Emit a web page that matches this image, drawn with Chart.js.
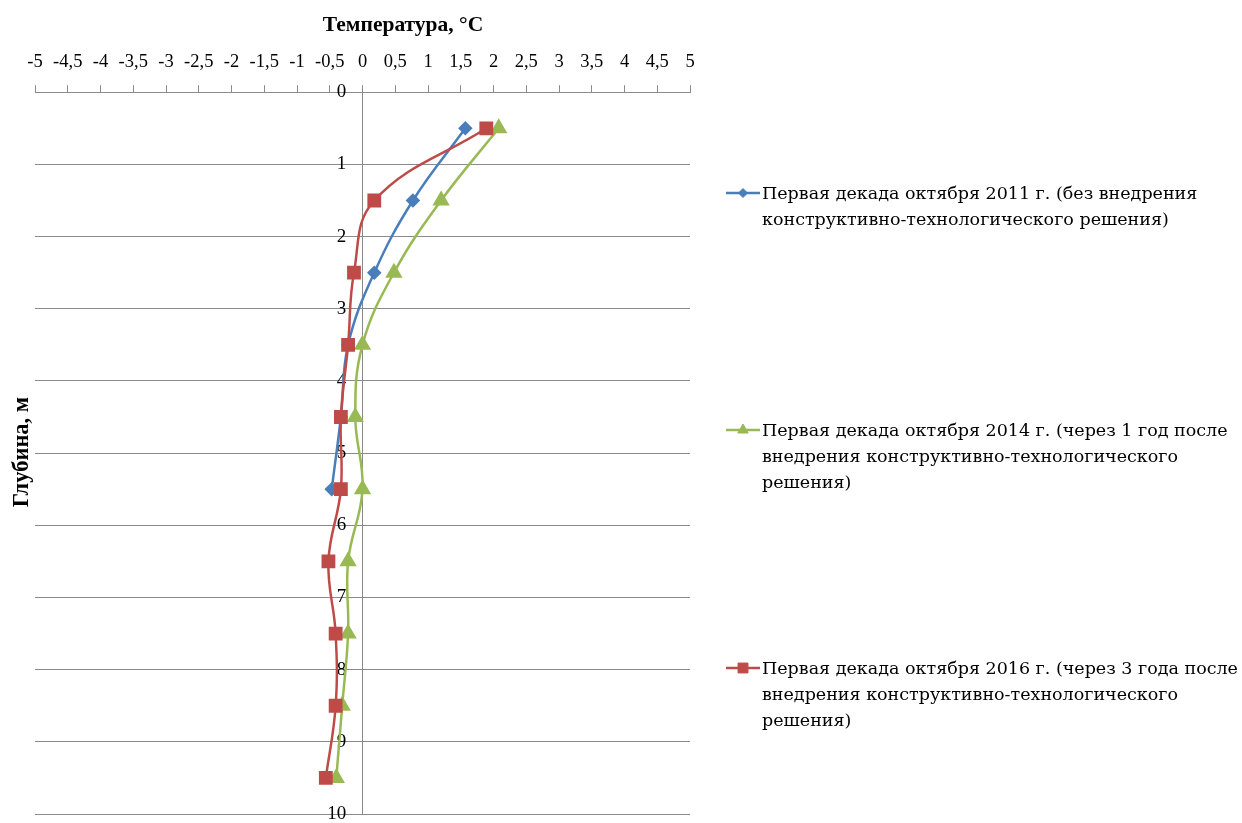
<!DOCTYPE html>
<html>
<head>
<meta charset="utf-8">
<script src="https://cdn.jsdelivr.net/npm/chart.js@4/dist/chart.umd.min.js"></script>
<style>
  html, body { margin: 0; padding: 0; background: #fff; }
  #wrap { position: relative; width: 1242px; height: 823px; }
</style>
</head>
<body>
<div id="wrap"><canvas id="c" width="1242" height="823"></canvas></div>
<script>
// Depth of each measurement, m
const depths = [0.5, 1.5, 2.5, 3.5, 4.5, 5.5, 6.5, 7.5, 8.5, 9.5];
// Soil temperature, °C, first ten days of October
const temp2011 = [1.57, 0.77, 0.18, -0.22, -0.33, -0.47];
const temp2014 = [2.08, 1.20, 0.48, 0.00, -0.11, 0.00, -0.22, -0.22, -0.31, -0.40];
const temp2016 = [1.89, 0.18, -0.13, -0.22, -0.33, -0.33, -0.52, -0.41, -0.41, -0.56];

// Legend captions, already split into lines
const seriesLabels = [
  ['Первая декада октября 2011 г. (без внедрения', 'конструктивно-технологического решения)'],
  ['Первая декада октября 2014 г. (через 1 год после', 'внедрения конструктивно-технологического', 'решения)'],
  ['Первая декада октября 2016 г. (через 3 года после', 'внедрения конструктивно-технологического', 'решения)']
];
const xTitle = 'Температура, °C';
const yTitle = 'Глубина, м';
const xTickLabels = ['-5','-4,5','-4','-3,5','-3','-2,5','-2','-1,5','-1','-0,5','0','0,5','1','1,5','2','2,5','3','3,5','4','4,5','5'];
const yTickLabels = ['0','1','2','3','4','5','6','7','8','9','10'];

const toPoints = (temps) => temps.map((t, i) => ({ x: t, y: depths[i] }));

const SERIF = "'Liberation Serif', 'Times New Roman', serif";
const LEGEND_FONT = "'DejaVu Serif', serif";
const GRID = '#8a8a8a';

// Axis titles and the legend on the right side
const sideDecor = {
  id: 'sideDecor',
  afterDraw(chart) {
    const ctx = chart.ctx;
    ctx.save();
    ctx.fillStyle = '#000';
    ctx.textAlign = 'center';
    ctx.textBaseline = 'middle';
    ctx.font = 'bold 21.5px ' + SERIF;
    ctx.fillText(xTitle, 403, 25);
    ctx.save();
    ctx.translate(22, 452);
    ctx.rotate(-Math.PI / 2);
    ctx.font = 'bold 22.5px ' + SERIF;
    ctx.fillText(yTitle, 0, 0);
    ctx.restore();

    const starts = [193, 430, 668];
    const lineGap = 26;
    ctx.font = '17.5px ' + LEGEND_FONT;
    ctx.textAlign = 'left';
    chart.data.datasets.forEach((ds, i) => {
      const y = starts[i];
      ctx.strokeStyle = ds.borderColor;
      ctx.lineWidth = 2.5;
      ctx.beginPath();
      ctx.moveTo(726, y);
      ctx.lineTo(760, y);
      ctx.stroke();
      ctx.fillStyle = ds.pointBackgroundColor;
      ctx.strokeStyle = ds.pointBorderColor;
      ctx.lineWidth = 1;
      Chart.helpers.drawPoint(ctx, {
        pointStyle: ds.pointStyle,
        radius: ds.legendRadius,
        borderWidth: 1,
        rotation: 0
      }, 743, y);
      ctx.fillStyle = '#000';
      seriesLabels[i].forEach((line, k) => ctx.fillText(line, 762, y + 1 + k * lineGap));
    });
    ctx.restore();
  }
};

new Chart(document.getElementById('c'), {
  type: 'scatter',
  data: {
    datasets: [
      {
        label: seriesLabels[0].join(' '),
        data: toPoints(temp2011),
        borderColor: '#4a7ebb', backgroundColor: '#4a7ebb',
        pointBackgroundColor: '#4a7ebb', pointBorderColor: '#4a7ebb',
        pointStyle: 'rectRot', pointRadius: 5.5, legendRadius: 4.5,
        showLine: true, tension: 0.4, borderWidth: 2.5, order: 2
      },
      {
        label: seriesLabels[1].join(' '),
        data: toPoints(temp2014),
        borderColor: '#98b954', backgroundColor: '#98b954',
        pointBackgroundColor: '#98b954', pointBorderColor: '#98b954',
        pointStyle: 'triangle', pointRadius: 7.5, legendRadius: 6,
        showLine: true, tension: 0.4, borderWidth: 2.5, order: 1
      },
      {
        label: seriesLabels[2].join(' '),
        data: toPoints(temp2016),
        borderColor: '#be4b48', backgroundColor: '#be4b48',
        pointBackgroundColor: '#be4b48', pointBorderColor: '#be4b48',
        pointStyle: 'rect', pointRadius: 8, legendRadius: 7,
        showLine: true, tension: 0.4, borderWidth: 2.5, order: 0
      }
    ]
  },
  options: {
    responsive: false,
    devicePixelRatio: 1,
    animation: false,
    layout: { autoPadding: false, padding: { left: 35, right: 552, top: 39, bottom: 9 } },
    plugins: { legend: { display: false }, tooltip: { enabled: false } },
    scales: {
      x: {
        type: 'linear',
        position: 'top',
        min: -5, max: 5,
        afterBuildTicks: (scale) => { scale.ticks = xTickLabels.map((_, i) => ({ value: -5 + i * 0.5 })); },
        ticks: {
          autoSkip: false, maxRotation: 0, padding: 12,
          color: '#000', font: { family: SERIF, size: 18.5 },
          callback: (v, i) => xTickLabels[i]
        },
        grid: { drawOnChartArea: false, drawTicks: true, tickLength: 7, color: GRID, tickColor: GRID },
        border: { display: true, color: GRID, width: 1 }
      },
      // depth axis line at 0 °C with the horizontal grid
      y: {
        type: 'linear',
        reverse: true,
        position: { x: 0 },
        min: 0, max: 10,
        afterBuildTicks: (scale) => { scale.ticks = yTickLabels.map((_, i) => ({ value: i })); },
        ticks: { display: false, padding: 0, font: { size: 10, lineHeight: 0.5 } },
        grid: { drawTicks: false, color: GRID, lineWidth: 1 },
        border: { display: true, color: GRID, width: 1 }
      },
      // depth labels, set just left of the 0 °C line
      yLabels: {
        type: 'linear',
        axis: 'y',
        reverse: true,
        position: { x: -0.25 },
        min: 0, max: 10,
        afterBuildTicks: (scale) => { scale.ticks = yTickLabels.map((_, i) => ({ value: i })); },
        ticks: {
          autoSkip: false, padding: 0,
          color: '#000', font: { family: SERIF, size: 19, lineHeight: 0.6 },
          callback: (v, i) => yTickLabels[i]
        },
        grid: { display: false, drawTicks: false },
        border: { display: false }
      }
    }
  },
  plugins: [sideDecor]
});
</script>
</body>
</html>
